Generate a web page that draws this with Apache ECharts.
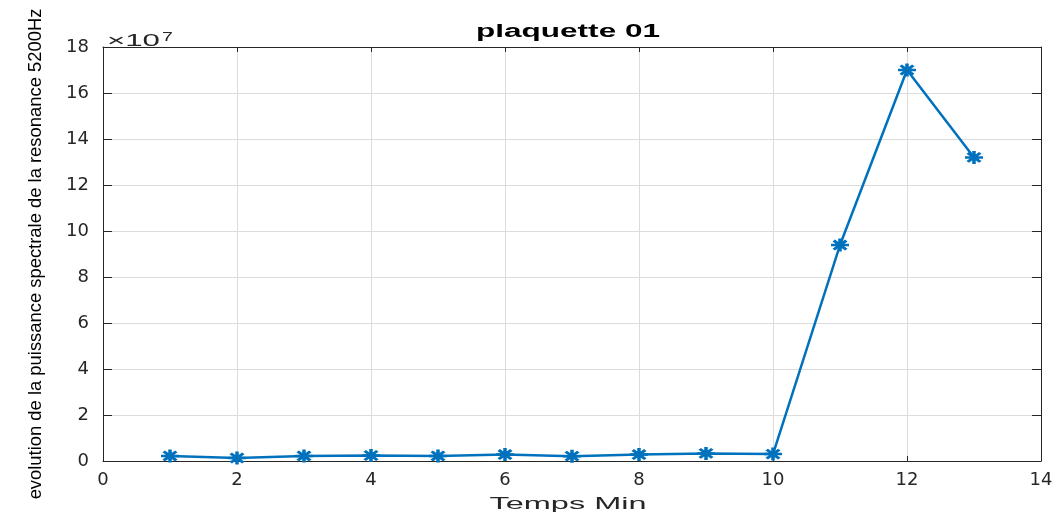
<!DOCTYPE html>
<html>
<head>
<meta charset="utf-8">
<script src="https://cdn.jsdelivr.net/npm/echarts@6/dist/echarts.min.js"></script>
<style>html,body{margin:0;padding:0;background:#fff;}#c{width:1062px;height:518px;}</style>
</head>
<body>
<div id="c"></div>
<script>
const timeMin = [1,2,3,4,5,6,7,8,9,10,11,12,13];
const puissance = [0.22,0.13,0.22,0.24,0.22,0.28,0.21,0.28,0.33,0.30,9.39,17.0,13.2]; // x 1e7
const xTicks = [0,2,4,6,8,10,12,14];
const yTicks = [0,2,4,6,8,10,12,14,16,18];
const titleText = 'plaquette 01';
const xLabel = 'Temps Min';
const yLabel = 'evolution de la puissance spectrale de la resonance 5200Hz';
const expBase = '×10';
const expPow = '7';

const font = 'Liberation Sans';
const axisCol = '#262626';
const gridCol = '#dcdcdc';

// horizontal stretch helper so texts match the stretched reference
const ctx = document.createElement('canvas').getContext('2d');
function widthOf(txt, f) { ctx.font = f; return ctx.measureText(txt).width; }
function stretch(txt, f, target) { return target / widthOf(txt, f); }

const titleScale = stretch(titleText, 'bold 18px "Liberation Sans"', 184);
const xNameScale = stretch(xLabel, '17px "Liberation Sans"', 157);
const expScale = stretch(expBase, '17px "Liberation Sans"', 53);

const chart = echarts.init(document.getElementById('c'));
chart.setOption({
  animation: false,
  grid: {left: 103, right: 21, top: 47, bottom: 57, containLabel: false},
  xAxis: [{
    type: 'value', min: 0, max: 14, interval: 2,
    axisLine: {show: true, lineStyle: {color: axisCol, width: 1}},
    axisTick: {show: true, inside: true, length: 5, lineStyle: {color: axisCol}},
    axisLabel: {fontFamily: 'DejaVu Sans', fontSize: 18, color: axisCol, margin: 10},
    splitLine: {show: true, lineStyle: {color: gridCol, width: 1}}
  }, {
    type: 'value', min: 0, max: 14, interval: 2, position: 'top',
    axisLine: {show: true, onZero: false, lineStyle: {color: axisCol, width: 1}},
    axisTick: {show: true, inside: true, length: 5, lineStyle: {color: axisCol}},
    axisLabel: {show: false}, splitLine: {show: false}
  }],
  yAxis: [{
    type: 'value', min: 0, max: 18, interval: 2,
    name: yLabel, nameLocation: 'middle', nameGap: 58, nameRotate: 90,
    nameTextStyle: {fontFamily: font, fontSize: 18.4, color: '#000'},
    axisLine: {show: true, lineStyle: {color: axisCol, width: 1}},
    axisTick: {show: true, inside: true, length: 9, lineStyle: {color: axisCol}},
    axisLabel: {fontFamily: 'DejaVu Sans', fontSize: 18, color: axisCol, margin: 14},
    splitLine: {show: true, lineStyle: {color: gridCol, width: 1}}
  }, {
    type: 'value', min: 0, max: 18, interval: 2, position: 'right',
    axisLine: {show: true, onZero: false, lineStyle: {color: axisCol, width: 1}},
    axisTick: {show: true, inside: true, length: 9, lineStyle: {color: axisCol}},
    axisLabel: {show: false}, splitLine: {show: false}
  }],
  graphic: [{
    type: 'text', x: 568, y: 32, scaleX: titleScale,
    style: {text: titleText, fontFamily: font, fontSize: 18, fontWeight: 'bold', fill: '#000', align: 'center', verticalAlign: 'middle'}
  }, {
    type: 'text', x: 568, y: 504, scaleX: xNameScale,
    style: {text: xLabel, fontFamily: font, fontSize: 17, fill: axisCol, align: 'center', verticalAlign: 'middle'}
  }, {
    type: 'text', x: 107, y: 50, scaleX: expScale,
    style: {text: expBase, fontFamily: font, fontSize: 17, fill: axisCol, align: 'left', verticalAlign: 'bottom'}
  }, {
    type: 'text', x: 162, y: 44, scaleX: 1.5,
    style: {text: expPow, fontFamily: font, fontSize: 13, fill: axisCol, align: 'left', verticalAlign: 'bottom'}
  }],
  series: [{
    type: 'line', xAxisIndex: 0, yAxisIndex: 0,
    data: timeMin.map((t, i) => [t, puissance[i]]),
    lineStyle: {color: '#0072BD', width: 2.5},
    symbol: 'path://M0,5L10,5M5,0L5,10M1.5,1.5L8.5,8.5M1.5,8.5L8.5,1.5',
    symbolSize: [18, 13],
    showSymbol: true,
    itemStyle: {color: 'rgba(0,0,0,0)', borderColor: '#0072BD', borderWidth: 3},
    emphasis: {disabled: true}
  }]
});
</script>
</body>
</html>
